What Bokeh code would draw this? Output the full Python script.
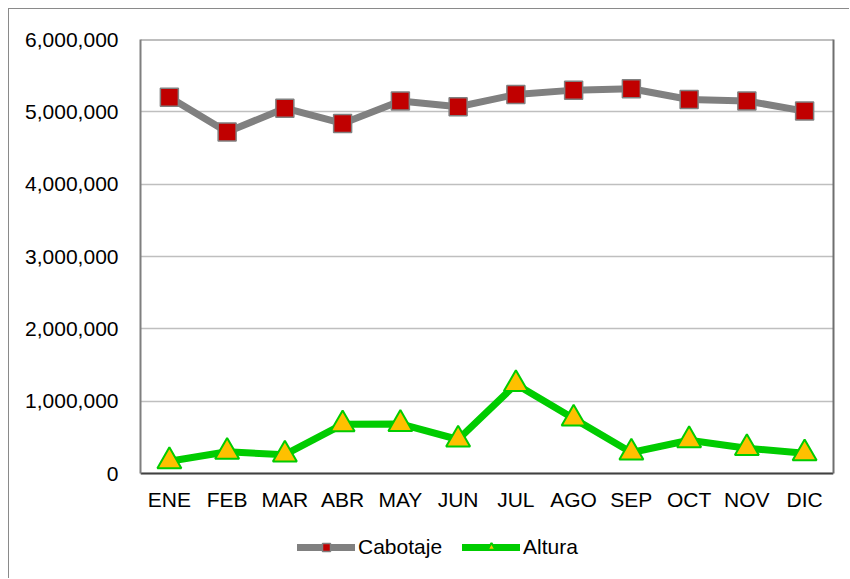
from bokeh.plotting import figure
from bokeh.models import (FactorRange, Range1d, FixedTicker, NumeralTickFormatter,
                          Legend, LegendItem, LinearAxis, Span)
from bokeh.embed import file_html
from bokeh.resources import INLINE

months = ["ENE", "FEB", "MAR", "ABR", "MAY", "JUN", "JUL", "AGO", "SEP", "OCT", "NOV", "DIC"]
cabotaje = [5200000, 4720000, 5050000, 4840000, 5150000, 5070000,
            5240000, 5300000, 5320000, 5170000, 5150000, 5010000]
altura = [170000, 300000, 260000, 680000, 685000, 470000,
          1235000, 760000, 290000, 460000, 350000, 280000]
y_ticks = [0, 1000000, 2000000, 3000000, 4000000, 5000000, 6000000]
y_max = 6000000

FONT = "Liberation Sans"

# the frame reaches down to the canvas bottom so the legend can sit inside it;
# the value axis only covers 0..6,000,000 (0 sits 106 px above the frame bottom)
y_min = -y_max * 106 / 434

p = figure(width=841, height=570, output_backend="svg", toolbar_location=None,
           x_range=FactorRange(*months, range_padding=0),
           y_range=Range1d(y_min, y_max),
           min_border_left=131, min_border_right=17, min_border_top=30, min_border_bottom=0)
p.styles = {"margin-left": "8px", "margin-top": "8px",
            "border-left": "1px solid #8a8a8a", "border-top": "1px solid #8a8a8a"}

p.background_fill_color = "white"
p.border_fill_color = "white"
p.outline_line_color = None

p.xgrid.grid_line_color = None
p.ygrid.grid_line_color = "#bfbfbf"
p.ygrid.grid_line_width = 1.5
p.yaxis.ticker = FixedTicker(ticks=y_ticks)
p.yaxis.formatter = NumeralTickFormatter(format="0,0")
p.yaxis.bounds = (0, y_max)

for ax in (p.xaxis, p.yaxis):
    ax.major_tick_line_color = None
    ax.minor_tick_line_color = None
    ax.major_label_text_font = FONT
    ax.major_label_text_font_size = "21px"
    ax.major_label_text_color = "black"
p.yaxis.axis_line_color = "#7f7f7f"
p.yaxis.axis_line_width = 2
p.xaxis.axis_line_color = "#404040"
p.xaxis.axis_line_width = 2
p.xaxis.fixed_location = 0
p.yaxis.major_label_standoff = 16
p.xaxis.major_label_standoff = 8

right_axis = LinearAxis(bounds=(0, y_max), ticker=FixedTicker(ticks=[]),
                        axis_line_color="#6f6f6f", axis_line_width=2,
                        major_tick_line_color=None, minor_tick_line_color=None,
                        major_label_text_font_size="0px")
p.add_layout(right_axis, "right")
p.add_layout(Span(location=y_max, dimension="width", line_color="#7f7f7f", line_width=2))

l1 = p.line(months, cabotaje, line_color="#808080", line_width=7,
            line_cap="round", line_join="round")
s1 = p.scatter(months, cabotaje, marker="square", size=18, fill_color="#c00000",
               line_color="#808080", line_width=1.5)
l2 = p.line(months, altura, line_color="#00cc00", line_width=7,
            line_cap="round", line_join="round")
s2 = p.scatter(months, altura, marker="triangle", size=24, fill_color="#ffc000",
               line_color="#00cc00", line_width=2)

legend = Legend(items=[LegendItem(label="Cabotaje", renderers=[l1, s1]),
                       LegendItem(label="Altura", renderers=[l2, s2])],
                orientation="horizontal", location=(157, 20),
                glyph_width=58, glyph_height=20, label_standoff=3, spacing=20,
                padding=0, margin=0, border_line_color=None, background_fill_alpha=0,
                label_text_font=FONT, label_text_font_size="21px", label_text_color="black")
p.add_layout(legend, "center")

open("out.html", "w").write(file_html(p, INLINE))
